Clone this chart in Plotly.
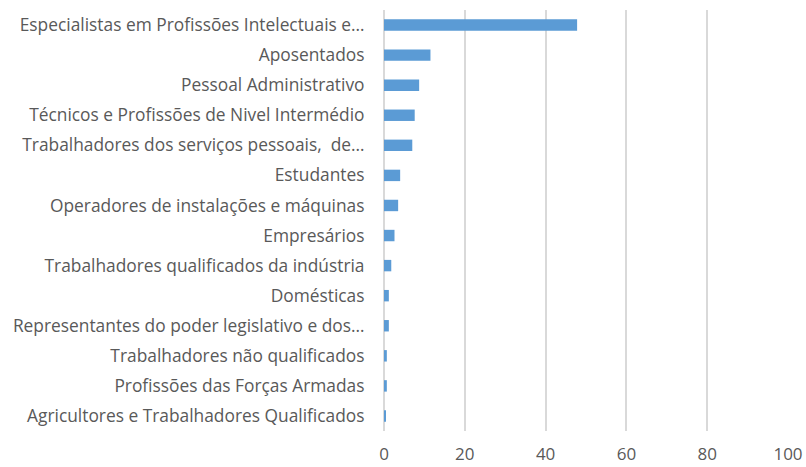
import plotly.graph_objects as go

# Occupation categories, top to bottom
categories = [
    "Especialistas em Profissões Intelectuais e…",
    "Aposentados",
    "Pessoal Administrativo",
    "Técnicos e Profissões de Nivel Intermédio",
    "Trabalhadores dos serviços pessoais,  de…",
    "Estudantes",
    "Operadores de instalações e máquinas",
    "Empresários",
    "Trabalhadores qualificados da indústria",
    "Domésticas",
    "Representantes do poder legislativo e dos…",
    "Trabalhadores não qualificados",
    "Profissões das Forças Armadas",
    "Agricultores e Trabalhadores Qualificados",
]
values = [47.8, 11.5, 8.7, 7.6, 7.0, 4.0, 3.5, 2.6, 1.8, 1.2, 1.2, 0.7, 0.7, 0.4]
x_ticks = [0, 20, 40, 60, 80, 100]

font_family = "Open Sans"
text_color = "#595959"

fig = go.Figure(
    go.Bar(
        y=categories,
        x=values,
        orientation="h",
        marker=dict(color="#5B9BD5", line=dict(width=0)),
    )
)

fig.update_layout(
    width=806,
    height=467,
    margin=dict(l=384, r=18, t=10, b=36),
    paper_bgcolor="white",
    plot_bgcolor="white",
    bargap=0.62,
    showlegend=False,
    font=dict(family=font_family, size=17, color=text_color),
)

fig.update_xaxes(
    range=[0, 100],
    tickvals=x_ticks,
    showgrid=True,
    gridcolor="#D9D9D9",
    gridwidth=1.5,
    zeroline=True,
    zerolinecolor="#D9D9D9",
    zerolinewidth=1.5,
    showline=False,
    ticks="outside",
    ticklen=8,
    tickcolor="rgba(0,0,0,0)",
    tickfont=dict(family=font_family, size=17, color=text_color),
    automargin=False,
    fixedrange=True,
)

fig.update_yaxes(
    categoryorder="array",
    categoryarray=list(reversed(categories)),
    showgrid=False,
    showline=False,
    ticks="outside",
    ticklen=15,
    tickcolor="rgba(0,0,0,0)",
    tickfont=dict(family=font_family, size=17.35, color=text_color),
    automargin=False,
    fixedrange=True,
)

fig.write_html("out.html")
